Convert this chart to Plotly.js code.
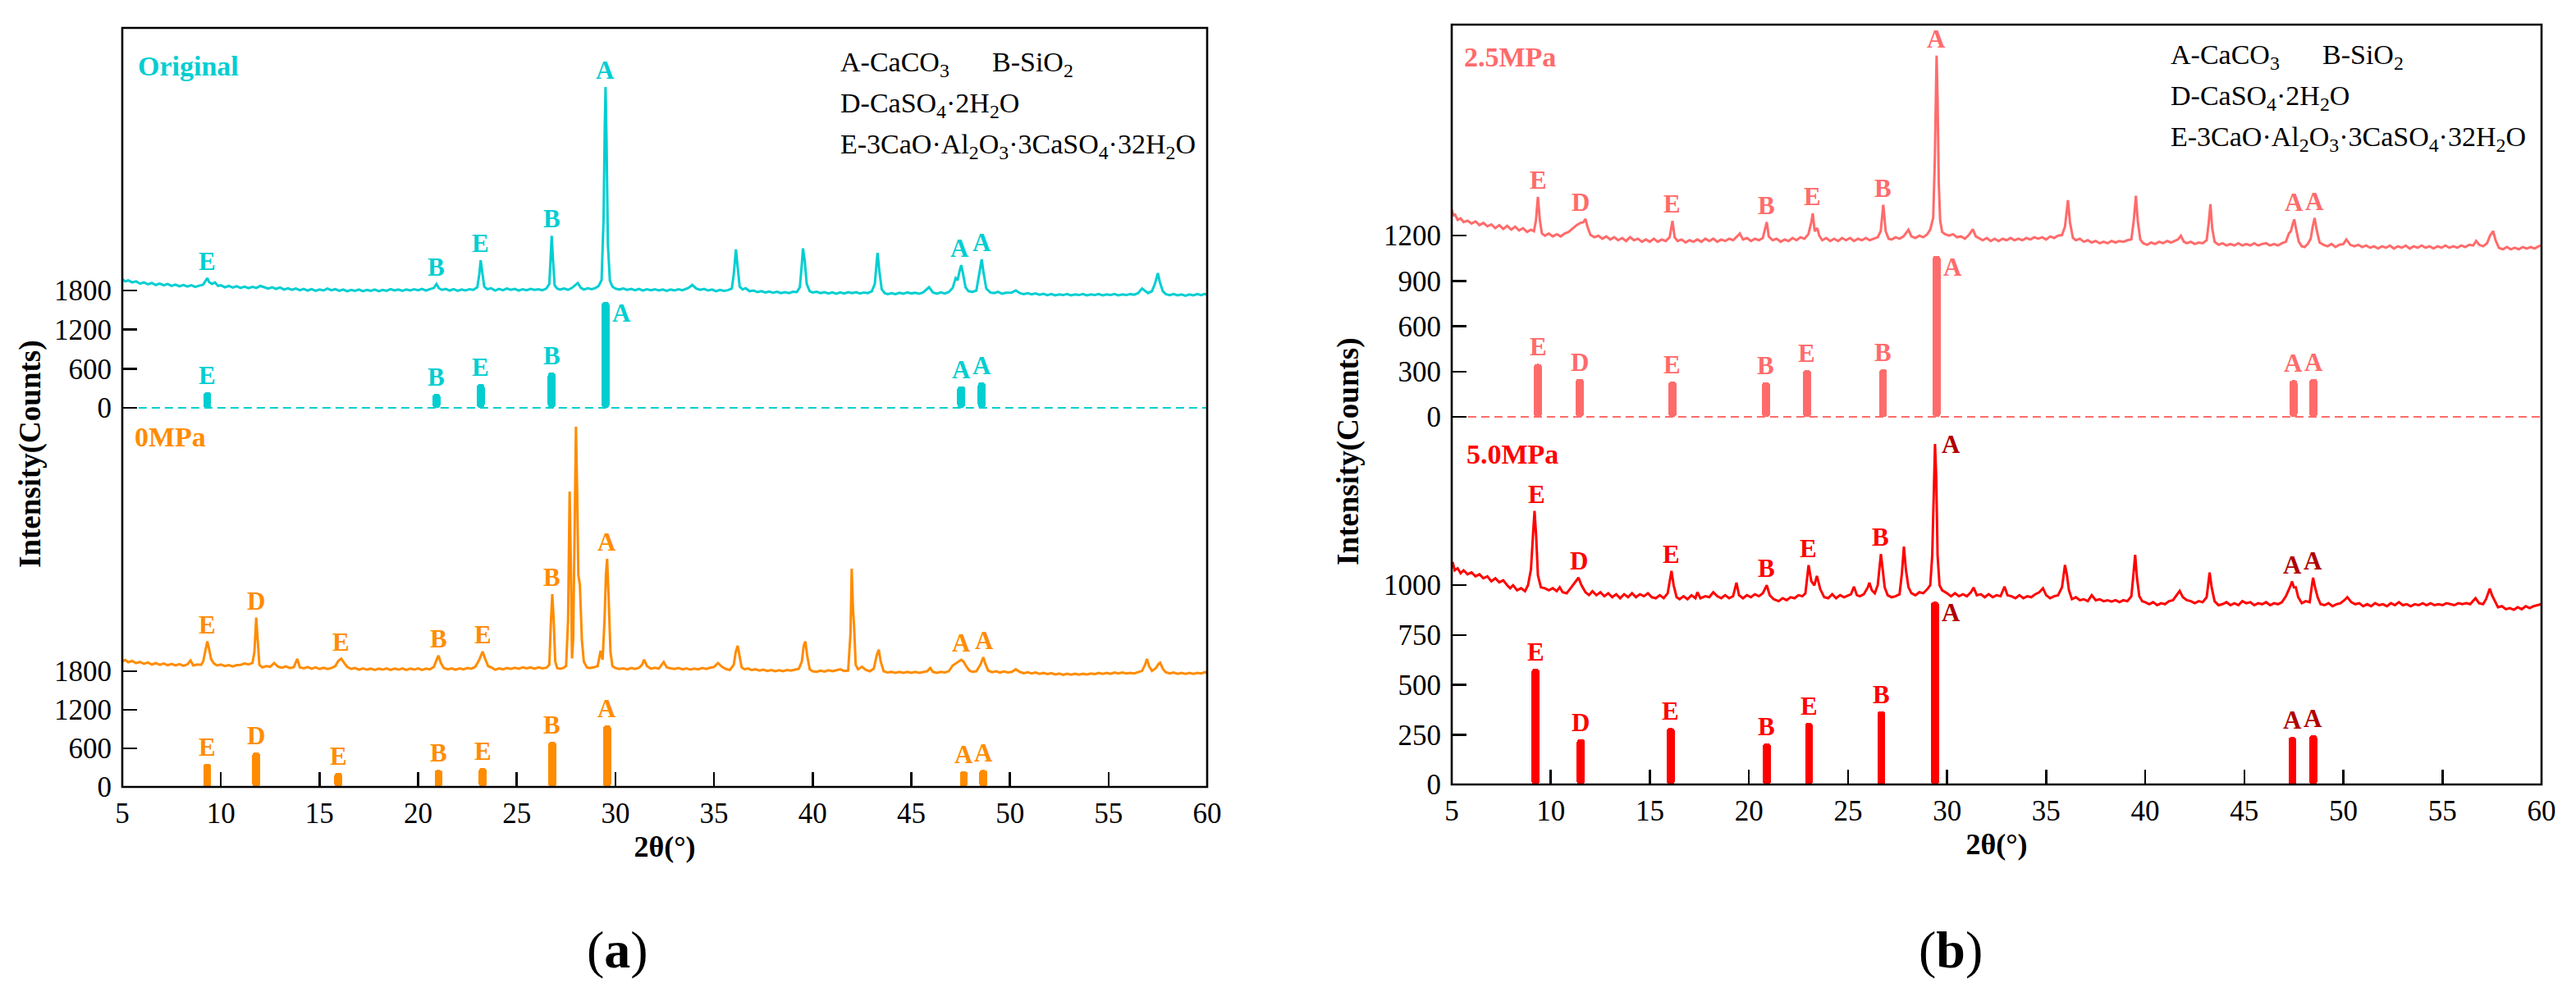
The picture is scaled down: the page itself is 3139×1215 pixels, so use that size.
<!DOCTYPE html>
<html>
<head>
<meta charset="utf-8">
<script src="https://cdn.plot.ly/plotly-3.0.1.min.js"></script>
<style>html,body{margin:0;padding:0;background:#fff}</style>
</head>
<body>
<div id="chart" style="width:3139px;height:1215px"></div>
<script>
/*** DATA: measured XRD scans, [2theta, counts] ***/

// Original sample (upper part of panel a)
const originalScan = [[5.0,1975],[5.15,1940],[5.3,1955],[5.5,1925],[5.7,1940],[5.9,1905],[6.1,1925],[6.3,1895],[6.5,1915],[6.7,1885],[6.9,1905],[7.1,1880],[7.3,1900],[7.5,1870],[7.7,1890],[7.9,1865],[8.1,1885],[8.3,1860],[8.5,1880],[8.7,1855],[8.9,1875],[9.1,1890],[9.25,1960],[9.31,1990],[9.4,1930],[9.55,1900],[9.7,1925],[9.85,1870],[10.0,1880],[10.2,1850],[10.4,1870],[10.6,1845],[10.8,1865],[11.0,1840],[11.2,1860],[11.4,1835],[11.6,1855],[11.8,1840],[12.0,1870],[12.2,1850],[12.4,1830],[12.6,1850],[12.8,1825],[13.0,1845],[13.2,1815],[13.4,1835],[13.6,1810],[13.8,1830],[14.0,1805],[14.2,1825],[14.4,1800],[14.6,1820],[14.8,1795],[15.0,1815],[15.2,1800],[15.4,1830],[15.6,1805],[15.8,1820],[16.0,1795],[16.2,1815],[16.4,1790],[16.6,1810],[16.8,1795],[17.0,1815],[17.2,1790],[17.4,1810],[17.6,1795],[17.8,1815],[18.0,1790],[18.2,1810],[18.4,1795],[18.6,1820],[18.8,1800],[19.0,1815],[19.2,1795],[19.4,1815],[19.6,1800],[19.8,1820],[20.0,1805],[20.2,1825],[20.4,1800],[20.6,1820],[20.8,1840],[20.93,1900],[21.05,1835],[21.2,1810],[21.4,1825],[21.6,1800],[21.8,1820],[22.0,1795],[22.2,1815],[22.4,1800],[22.6,1820],[22.8,1810],[23.0,1850],[23.1,2050],[23.17,2263],[23.25,2080],[23.35,1860],[23.5,1820],[23.7,1835],[23.9,1800],[24.1,1825],[24.3,1805],[24.5,1830],[24.7,1810],[24.9,1825],[25.1,1800],[25.3,1820],[25.5,1805],[25.7,1825],[25.9,1810],[26.1,1820],[26.3,1805],[26.5,1830],[26.65,1900],[26.72,2350],[26.77,2640],[26.84,2250],[26.92,1880],[27.05,1830],[27.2,1815],[27.4,1830],[27.6,1810],[27.8,1840],[27.95,1880],[28.09,1915],[28.25,1840],[28.4,1815],[28.6,1835],[28.8,1820],[29.0,1840],[29.15,1870],[29.3,1960],[29.4,2900],[29.46,4300],[29.5,4922],[29.55,4100],[29.62,2500],[29.72,1950],[29.85,1860],[30.0,1830],[30.2,1815],[30.4,1830],[30.6,1810],[30.8,1825],[31.0,1805],[31.2,1825],[31.4,1800],[31.6,1820],[31.8,1805],[32.0,1820],[32.2,1800],[32.4,1815],[32.6,1795],[32.8,1815],[33.0,1800],[33.2,1820],[33.4,1805],[33.7,1840],[33.9,1885],[34.1,1830],[34.3,1810],[34.5,1825],[34.7,1800],[34.9,1815],[35.1,1790],[35.3,1810],[35.5,1795],[35.7,1805],[35.9,1830],[36.0,2050],[36.11,2430],[36.2,2150],[36.3,1860],[36.45,1815],[36.6,1835],[36.8,1790],[37.0,1800],[37.2,1775],[37.4,1790],[37.6,1770],[37.8,1785],[38.0,1765],[38.2,1780],[38.4,1760],[38.6,1775],[38.8,1760],[39.0,1780],[39.2,1775],[39.35,1850],[39.45,2200],[39.51,2446],[39.6,2250],[39.7,1900],[39.85,1790],[40.0,1770],[40.2,1780],[40.4,1760],[40.6,1775],[40.8,1755],[41.0,1770],[41.2,1750],[41.4,1770],[41.6,1755],[41.8,1775],[42.0,1760],[42.2,1775],[42.4,1755],[42.6,1770],[42.8,1760],[43.0,1790],[43.15,1900],[43.25,2250],[43.29,2377],[43.38,2100],[43.5,1820],[43.65,1760],[43.8,1745],[44.0,1760],[44.2,1745],[44.4,1765],[44.6,1750],[44.8,1770],[45.0,1755],[45.2,1765],[45.4,1750],[45.6,1770],[45.9,1850],[46.1,1770],[46.3,1750],[46.5,1770],[46.7,1755],[46.9,1775],[47.1,1840],[47.25,1990],[47.35,1960],[47.45,2100],[47.53,2190],[47.62,2060],[47.75,1850],[47.9,1790],[48.1,1780],[48.3,1800],[48.45,2050],[48.57,2278],[48.65,2100],[48.8,1830],[49.0,1770],[49.2,1760],[49.4,1780],[49.6,1750],[49.8,1765],[50.1,1770],[50.3,1800],[50.5,1760],[50.7,1745],[50.9,1760],[51.1,1740],[51.3,1755],[51.5,1735],[51.7,1750],[51.9,1730],[52.1,1745],[52.3,1725],[52.5,1740],[52.7,1730],[52.9,1745],[53.1,1725],[53.3,1740],[53.5,1730],[53.7,1745],[53.9,1725],[54.1,1740],[54.3,1730],[54.5,1745],[54.7,1725],[54.9,1740],[55.1,1730],[55.3,1745],[55.5,1725],[55.7,1740],[55.9,1730],[56.1,1745],[56.3,1735],[56.5,1760],[56.7,1830],[56.85,1790],[57.0,1760],[57.2,1790],[57.35,1900],[57.5,2066],[57.6,1930],[57.75,1790],[57.9,1745],[58.1,1730],[58.3,1745],[58.5,1725],[58.7,1740],[58.9,1720],[59.1,1740],[59.3,1725],[59.5,1745],[59.7,1730],[59.85,1745],[60.0,1740]];

// 0MPa sample (lower part of panel a)
const mpa0Scan = [[5.0,1955],[5.15,1975],[5.3,1940],[5.5,1960],[5.7,1925],[5.9,1945],[6.1,1915],[6.3,1935],[6.5,1905],[6.7,1925],[6.9,1900],[7.1,1920],[7.3,1895],[7.5,1915],[7.7,1890],[7.9,1910],[8.1,1885],[8.3,1905],[8.46,1966],[8.6,1890],[8.8,1905],[9.0,1900],[9.1,1950],[9.2,2120],[9.31,2264],[9.4,2150],[9.5,1990],[9.65,1920],[9.8,1890],[10.0,1905],[10.2,1880],[10.4,1895],[10.6,1875],[10.8,1895],[11.0,1900],[11.2,1920],[11.4,1905],[11.6,1930],[11.7,2100],[11.79,2634],[11.86,2250],[11.95,1900],[12.1,1860],[12.3,1880],[12.5,1870],[12.7,1928],[12.9,1870],[13.1,1855],[13.3,1875],[13.5,1850],[13.7,1865],[13.87,1991],[14.0,1860],[14.2,1845],[14.4,1865],[14.6,1840],[14.8,1860],[15.0,1835],[15.2,1855],[15.4,1835],[15.6,1850],[15.8,1880],[15.95,1960],[16.1,1996],[16.25,1930],[16.4,1870],[16.6,1835],[16.8,1850],[17.0,1825],[17.2,1845],[17.4,1825],[17.6,1840],[17.8,1820],[18.0,1840],[18.2,1825],[18.4,1845],[18.6,1820],[18.8,1840],[19.0,1825],[19.2,1845],[19.4,1820],[19.6,1840],[19.8,1825],[20.0,1845],[20.2,1820],[20.4,1840],[20.6,1830],[20.8,1870],[20.95,1990],[21.03,2043],[21.15,1930],[21.3,1850],[21.5,1830],[21.7,1845],[21.9,1825],[22.1,1845],[22.3,1830],[22.5,1850],[22.7,1840],[22.9,1870],[23.1,1980],[23.27,2106],[23.4,1990],[23.55,1880],[23.7,1860],[23.9,1825],[24.1,1845],[24.3,1830],[24.5,1850],[24.7,1835],[24.9,1855],[25.1,1840],[25.3,1860],[25.5,1845],[25.7,1860],[25.9,1840],[26.1,1860],[26.3,1845],[26.5,1855],[26.65,1900],[26.72,2500],[26.8,3000],[26.87,2600],[26.95,1950],[27.05,1850],[27.2,1840],[27.35,1850],[27.5,1880],[27.6,2600],[27.68,4596],[27.75,3300],[27.8,2000],[27.86,2300],[27.93,4200],[28.0,5604],[28.06,4600],[28.12,3300],[28.2,3140],[28.3,2285],[28.4,1950],[28.55,1860],[28.7,1850],[28.9,1860],[29.1,1880],[29.25,2119],[29.35,1980],[29.45,2600],[29.52,3300],[29.58,3549],[29.65,3000],[29.75,2100],[29.85,1880],[30.0,1850],[30.2,1835],[30.4,1845],[30.6,1830],[30.8,1850],[31.0,1835],[31.2,1855],[31.35,1900],[31.45,1979],[31.6,1880],[31.8,1840],[32.0,1855],[32.2,1840],[32.45,1944],[32.6,1860],[32.8,1845],[33.0,1835],[33.2,1850],[33.4,1830],[33.6,1845],[33.8,1825],[34.0,1840],[34.2,1830],[34.4,1850],[34.6,1835],[34.8,1855],[35.0,1865],[35.2,1928],[35.4,1870],[35.6,1835],[35.8,1820],[36.0,1900],[36.1,2100],[36.2,2196],[36.3,2000],[36.4,1860],[36.55,1830],[36.7,1845],[36.9,1820],[37.1,1830],[37.3,1810],[37.5,1825],[37.7,1805],[37.9,1820],[38.1,1800],[38.3,1815],[38.5,1800],[38.7,1820],[38.9,1810],[39.1,1825],[39.3,1840],[39.45,1950],[39.55,2200],[39.63,2264],[39.72,2050],[39.85,1830],[40.0,1800],[40.2,1790],[40.4,1810],[40.6,1795],[40.8,1815],[41.0,1800],[41.2,1815],[41.4,1830],[41.6,1805],[41.8,1810],[41.92,2400],[41.98,3396],[42.04,2800],[42.1,2500],[42.18,1900],[42.3,1830],[42.5,1870],[42.7,1820],[42.9,1800],[43.1,1840],[43.25,2050],[43.35,2136],[43.45,1950],[43.6,1800],[43.8,1780],[44.0,1790],[44.2,1775],[44.4,1790],[44.6,1775],[44.8,1790],[45.0,1775],[45.2,1790],[45.4,1775],[45.6,1790],[45.8,1800],[45.96,1850],[46.1,1790],[46.3,1775],[46.5,1790],[46.7,1780],[46.9,1800],[47.1,1890],[47.3,1930],[47.45,1960],[47.53,1979],[47.65,1950],[47.8,1870],[47.95,1810],[48.1,1790],[48.3,1800],[48.5,1900],[48.65,2017],[48.75,1920],[48.9,1810],[49.1,1785],[49.3,1800],[49.5,1780],[49.7,1795],[49.9,1780],[50.1,1790],[50.3,1830],[50.5,1790],[50.7,1770],[50.9,1785],[51.1,1765],[51.3,1780],[51.5,1760],[51.7,1775],[51.9,1755],[52.1,1770],[52.3,1750],[52.5,1765],[52.7,1745],[52.9,1760],[53.1,1745],[53.3,1760],[53.5,1745],[53.7,1760],[53.9,1750],[54.1,1765],[54.3,1755],[54.5,1775],[54.7,1760],[54.9,1775],[55.1,1760],[55.3,1780],[55.5,1765],[55.7,1780],[55.9,1765],[56.1,1775],[56.3,1765],[56.5,1785],[56.7,1805],[56.85,1900],[56.95,1991],[57.05,1880],[57.2,1805],[57.4,1850],[57.55,1920],[57.62,1932],[57.75,1840],[57.9,1785],[58.1,1765],[58.3,1780],[58.5,1760],[58.7,1775],[58.9,1760],[59.1,1775],[59.3,1760],[59.5,1775],[59.7,1765],[59.9,1785],[60.0,1770]];

// 2.5MPa sample (upper part of panel b)
const mpa25Scan = [[5.0,1375],[5.08,1330],[5.15,1345],[5.3,1305],[5.45,1315],[5.6,1290],[5.8,1300],[6.0,1280],[6.2,1295],[6.4,1270],[6.6,1285],[6.8,1262],[7.0,1275],[7.2,1250],[7.4,1270],[7.6,1245],[7.8,1265],[8.0,1240],[8.2,1260],[8.4,1235],[8.6,1250],[8.8,1225],[9.0,1240],[9.15,1230],[9.25,1300],[9.35,1457],[9.45,1300],[9.55,1215],[9.7,1200],[9.9,1215],[10.1,1195],[10.3,1210],[10.5,1195],[10.7,1215],[10.9,1225],[11.1,1250],[11.3,1270],[11.5,1285],[11.65,1290],[11.75,1311],[11.85,1260],[12.0,1205],[12.2,1190],[12.4,1200],[12.6,1180],[12.8,1195],[13.0,1175],[13.2,1190],[13.4,1170],[13.6,1185],[13.8,1165],[14.0,1190],[14.2,1170],[14.4,1180],[14.6,1160],[14.8,1175],[15.0,1160],[15.2,1180],[15.4,1160],[15.6,1175],[15.8,1165],[16.0,1190],[16.14,1298],[16.25,1190],[16.4,1165],[16.6,1175],[16.8,1155],[17.0,1170],[17.2,1160],[17.4,1175],[17.6,1160],[17.8,1180],[18.0,1165],[18.2,1180],[18.4,1160],[18.6,1175],[18.8,1165],[19.0,1180],[19.2,1170],[19.4,1195],[19.54,1215],[19.7,1175],[19.9,1185],[20.1,1165],[20.3,1180],[20.5,1170],[20.7,1185],[20.9,1290],[21.0,1195],[21.2,1170],[21.4,1180],[21.6,1160],[21.8,1175],[22.0,1165],[22.2,1185],[22.4,1170],[22.6,1190],[22.8,1180],[23.0,1210],[23.15,1290],[23.22,1348],[23.32,1230],[23.45,1250],[23.55,1200],[23.7,1170],[23.9,1185],[24.1,1165],[24.3,1180],[24.5,1165],[24.7,1185],[24.9,1170],[25.1,1185],[25.3,1165],[25.5,1180],[25.7,1170],[25.9,1185],[26.1,1170],[26.3,1180],[26.5,1190],[26.65,1230],[26.78,1405],[26.9,1230],[27.05,1180],[27.2,1175],[27.4,1190],[27.6,1180],[27.8,1195],[28.05,1239],[28.2,1195],[28.4,1185],[28.6,1200],[28.8,1190],[29.0,1210],[29.15,1240],[29.3,1320],[29.38,1700],[29.44,2250],[29.47,2393],[29.52,2100],[29.58,1550],[29.65,1300],[29.75,1225],[29.9,1210],[30.1,1200],[30.3,1210],[30.5,1190],[30.7,1195],[30.9,1180],[31.1,1205],[31.3,1243],[31.45,1195],[31.6,1185],[31.8,1170],[32.0,1185],[32.2,1165],[32.4,1180],[32.6,1165],[32.8,1180],[33.0,1170],[33.2,1185],[33.4,1170],[33.6,1180],[33.8,1170],[34.0,1185],[34.2,1175],[34.4,1190],[34.6,1180],[34.8,1190],[35.0,1175],[35.2,1195],[35.4,1185],[35.6,1200],[35.8,1205],[35.95,1260],[36.1,1435],[36.2,1290],[36.35,1185],[36.5,1170],[36.7,1180],[36.9,1160],[37.1,1170],[37.3,1155],[37.5,1165],[37.7,1150],[37.9,1160],[38.1,1150],[38.3,1165],[38.5,1155],[38.7,1165],[38.9,1160],[39.1,1170],[39.3,1175],[39.42,1300],[39.53,1464],[39.62,1300],[39.75,1175],[39.9,1150],[40.1,1140],[40.3,1155],[40.5,1145],[40.7,1160],[40.9,1150],[41.1,1165],[41.3,1155],[41.5,1165],[41.65,1175],[41.8,1200],[41.95,1160],[42.1,1150],[42.3,1160],[42.5,1145],[42.7,1155],[42.9,1150],[43.1,1170],[43.2,1280],[43.29,1409],[43.38,1250],[43.5,1160],[43.7,1140],[43.9,1150],[44.1,1135],[44.3,1145],[44.5,1135],[44.7,1150],[44.9,1135],[45.1,1145],[45.3,1135],[45.5,1150],[45.7,1135],[45.9,1145],[46.1,1150],[46.3,1135],[46.5,1145],[46.7,1135],[46.9,1150],[47.1,1160],[47.25,1215],[47.35,1230],[47.45,1280],[47.52,1308],[47.62,1240],[47.75,1160],[47.9,1130],[48.05,1125],[48.2,1145],[48.35,1180],[48.45,1260],[48.55,1317],[48.65,1240],[48.8,1155],[49.0,1140],[49.2,1130],[49.4,1145],[49.6,1125],[49.8,1140],[50.0,1145],[50.15,1175],[50.35,1140],[50.55,1130],[50.75,1140],[50.95,1125],[51.15,1135],[51.35,1120],[51.55,1130],[51.75,1115],[51.95,1130],[52.15,1120],[52.35,1135],[52.55,1115],[52.75,1130],[52.95,1120],[53.15,1135],[53.35,1115],[53.55,1130],[53.75,1120],[53.95,1135],[54.15,1120],[54.35,1130],[54.55,1115],[54.75,1130],[54.95,1120],[55.15,1135],[55.35,1120],[55.55,1130],[55.75,1120],[55.95,1135],[56.15,1125],[56.35,1140],[56.55,1135],[56.7,1165],[56.85,1140],[57.05,1130],[57.25,1150],[57.4,1200],[57.56,1230],[57.68,1170],[57.85,1120],[58.05,1110],[58.25,1125],[58.45,1110],[58.65,1120],[58.85,1110],[59.05,1125],[59.25,1115],[59.45,1125],[59.65,1115],[59.85,1130],[60.0,1135]];

// 5.0MPa sample (lower part of panel b)
const mpa50Scan = [[5.0,1096],[5.05,1116],[5.15,1075],[5.3,1085],[5.45,1060],[5.6,1075],[5.8,1055],[6.0,1065],[6.2,1045],[6.4,1055],[6.6,1035],[6.8,1045],[7.0,1020],[7.2,1035],[7.4,1015],[7.6,1025],[7.8,1000],[7.95,985],[8.1,1000],[8.3,975],[8.5,985],[8.7,970],[8.85,1000],[9.0,1080],[9.1,1250],[9.18,1373],[9.26,1250],[9.35,1050],[9.5,990],[9.7,985],[9.9,975],[10.1,985],[10.3,970],[10.45,990],[10.6,965],[10.8,960],[11.0,985],[11.2,1010],[11.4,1038],[11.55,1000],[11.75,965],[11.93,951],[12.1,970],[12.3,950],[12.5,965],[12.7,945],[12.9,960],[13.1,940],[13.3,955],[13.5,935],[13.7,955],[13.9,940],[14.1,960],[14.3,940],[14.5,955],[14.7,945],[14.9,960],[15.1,940],[15.3,935],[15.5,950],[15.7,935],[15.9,960],[16.0,1030],[16.09,1072],[16.2,1000],[16.35,940],[16.5,930],[16.7,945],[16.9,930],[17.1,950],[17.3,935],[17.4,965],[17.55,935],[17.8,945],[18.0,940],[18.2,965],[18.4,945],[18.6,935],[18.8,950],[19.0,935],[19.2,945],[19.37,1013],[19.5,950],[19.7,935],[19.9,950],[20.1,940],[20.3,955],[20.5,945],[20.7,960],[20.9,1000],[21.05,950],[21.25,930],[21.5,920],[21.7,935],[21.9,925],[22.1,940],[22.3,935],[22.5,950],[22.7,945],[22.85,960],[23.01,1101],[23.15,1020],[23.3,1000],[23.43,1047],[23.6,980],[23.8,940],[24.0,935],[24.2,955],[24.4,935],[24.6,950],[24.8,940],[25.0,950],[25.15,955],[25.3,993],[25.45,950],[25.6,945],[25.8,955],[26.0,990],[26.08,1013],[26.2,975],[26.35,960],[26.5,1000],[26.6,1120],[26.66,1157],[26.75,1080],[26.85,990],[27.0,950],[27.2,940],[27.4,945],[27.6,955],[27.72,1060],[27.82,1194],[27.92,1080],[28.05,990],[28.2,960],[28.4,950],[28.6,965],[28.8,960],[29.0,980],[29.15,1000],[29.25,1150],[29.32,1500],[29.39,1709],[29.45,1550],[29.52,1150],[29.62,1000],[29.75,975],[30.0,960],[30.2,945],[30.4,960],[30.6,945],[30.8,955],[31.0,945],[31.2,965],[31.34,988],[31.5,950],[31.7,955],[31.9,940],[32.1,955],[32.3,940],[32.5,950],[32.7,945],[32.9,993],[33.05,950],[33.25,945],[33.45,935],[33.65,950],[33.85,935],[34.05,945],[34.25,940],[34.45,955],[34.65,965],[34.84,985],[35.0,950],[35.2,935],[35.4,945],[35.6,950],[35.8,990],[35.95,1102],[36.05,1050],[36.15,975],[36.3,930],[36.5,940],[36.7,925],[36.9,930],[37.1,920],[37.3,950],[37.5,925],[37.7,930],[37.9,920],[38.1,925],[38.3,918],[38.5,925],[38.7,915],[38.9,925],[39.1,920],[39.3,945],[39.4,1050],[39.49,1153],[39.58,1040],[39.7,945],[39.85,920],[40.0,915],[40.2,905],[40.4,915],[40.6,900],[40.8,910],[41.0,905],[41.2,920],[41.4,925],[41.6,950],[41.74,972],[41.9,940],[42.1,925],[42.3,920],[42.5,910],[42.7,920],[42.9,915],[43.1,940],[43.18,1000],[43.25,1064],[43.35,990],[43.5,920],[43.7,900],[43.9,905],[44.1,915],[44.3,900],[44.5,910],[44.7,900],[44.9,920],[45.1,910],[45.3,915],[45.5,900],[45.7,910],[45.9,905],[46.1,915],[46.3,900],[46.5,910],[46.7,905],[46.9,915],[47.1,945],[47.3,990],[47.41,1019],[47.5,990],[47.6,990],[47.72,940],[47.9,910],[48.1,920],[48.3,915],[48.4,990],[48.47,1038],[48.57,990],[48.7,940],[48.85,905],[49.05,900],[49.25,910],[49.45,895],[49.65,905],[49.85,910],[50.05,925],[50.2,940],[50.4,915],[50.6,905],[50.8,910],[51.0,895],[51.2,905],[51.4,895],[51.6,910],[51.8,900],[52.0,905],[52.2,895],[52.4,910],[52.6,900],[52.8,915],[53.0,900],[53.2,905],[53.4,895],[53.6,905],[53.8,900],[54.0,910],[54.2,900],[54.4,910],[54.6,900],[54.8,905],[55.0,900],[55.2,910],[55.4,905],[55.6,900],[55.8,910],[56.0,905],[56.2,910],[56.4,905],[56.67,935],[56.85,910],[57.05,905],[57.2,930],[57.39,983],[57.5,950],[57.65,920],[57.8,890],[58.0,895],[58.2,880],[58.4,885],[58.6,877],[58.8,890],[59.0,880],[59.2,895],[59.4,885],[59.6,895],[59.8,900],[60.0,905]];

/*** DATA: reference stick patterns ***/
const originalRefPos = [9.31, 20.93, 23.17, 26.77, 29.5, 47.53, 48.57];
const originalRefCounts = [239, 214, 365, 541, 1624, 331, 390];
const originalRefPhase = ['E', 'B', 'E', 'B', 'A', 'A', 'A'];

const mpa0RefPos = [9.31, 11.79, 15.95, 21.03, 23.27, 26.8, 29.58, 47.66, 48.65];
const mpa0RefCounts = [362, 536, 221, 264, 294, 702, 957, 243, 264];
const mpa0RefPhase = ['E', 'D', 'E', 'B', 'E', 'B', 'A', 'A', 'A'];

const mpa25RefPos = [9.35, 11.46, 16.14, 20.86, 22.93, 26.77, 29.47, 47.48, 48.49];
const mpa25RefCounts = [351, 252, 234, 230, 311, 315, 1067, 243, 252];
const mpa25RefPhase = ['E', 'D', 'E', 'B', 'E', 'B', 'A', 'A', 'A'];

const mpa50RefPos = [9.23, 11.51, 16.05, 20.9, 23.03, 26.68, 29.39, 47.43, 48.48];
const mpa50RefCounts = [581, 228, 283, 206, 309, 368, 917, 238, 248];
const mpa50RefPhase = ['E', 'D', 'E', 'B', 'E', 'B', 'A', 'A', 'A'];

/*** DATA: phases marked on the measured scans ***/
const originalPeakPos = [9.31, 20.93, 23.17, 26.77, 29.5, 47.45, 48.6];
const originalPeakPhase = ['E', 'B', 'E', 'B', 'A', 'A', 'A'];
const mpa0PeakPos = [9.31, 11.79, 16.1, 21.03, 23.27, 26.8, 29.58, 47.53, 48.7];
const mpa0PeakPhase = ['E', 'D', 'E', 'B', 'E', 'B', 'A', 'A', 'A'];
const mpa25PeakPos = [9.35, 11.5, 16.14, 20.9, 23.22, 26.78, 29.47, 47.52, 48.55];
const mpa25PeakPhase = ['E', 'D', 'E', 'B', 'E', 'B', 'A', 'A', 'A'];
const mpa50PeakPos = [9.3, 11.4, 16.09, 20.9, 23.01, 26.66, 29.39, 47.41, 48.47];
const mpa50PeakPhase = ['E', 'D', 'E', 'B', 'E', 'B', 'A', 'A', 'A'];

/*** AXIS TICKS ***/
const xTicks = [5, 10, 15, 20, 25, 30, 35, 40, 45, 50, 55, 60];
const yTicksA = [0, 600, 1200, 1800];
const yTicksUpperB = [0, 300, 600, 900, 1200];
const yTicksLowerB = [0, 250, 500, 750, 1000];

/*** STYLE ***/
const W = 3139, H = 1215;
const FONT = 'Liberation Serif, Times New Roman, serif';
const CYAN = '#00CED1', ORANGE = '#FF8C00', PINK = '#FF6B6B', RED = '#FF0000', DARKRED = '#B00000';

// pixel -> paper helpers
function px(x) { return x / W; }
function py(y) { return 1 - y / H; }

// panel frames in pixels
const panelA = { l: 149, r: 1471, t: 34, b: 959, split: 508 };
const panelB = { l: 1769, r: 3097, t: 30, b: 956, split: 520 };

/*** TRACE BUILDERS ***/
function scanTrace(scan, color, xa, ya) {
    return {
        type: 'scatter', mode: 'lines',
        x: scan.map(p => p[0]), y: scan.map(p => p[1]),
        xaxis: xa, yaxis: ya,
        line: { color: color, width: 3 },
        hoverinfo: 'skip', showlegend: false
    };
}

function stickTrace(pos, counts, color, xa, ya) {
    return {
        type: 'bar', x: pos, y: counts, base: 0, width: 0.4,
        xaxis: xa, yaxis: ya,
        marker: { color: color, cornerradius: '45%', line: { width: 0 } },
        hoverinfo: 'skip', showlegend: false
    };
}

// highest point of a scan near a given angle
function peakTop(scan, x) {
    let m = -Infinity;
    scan.forEach(p => { if (Math.abs(p[0] - x) <= 0.3 && p[1] > m) m = p[1]; });
    return m;
}

// phase letters above peaks / sticks; `right` holds indexes placed beside the mark
function phaseLabels(pos, heights, phases, color, xa, ya, right, rightShift, colorOf) {
    return pos.map((x, i) => {
        const c = colorOf ? colorOf(phases[i]) : color;
        const base = {
            x: x, y: heights[i], xref: xa, yref: ya, text: '<b>' + phases[i] + '</b>',
            showarrow: false, font: { family: FONT, size: 31, color: c }
        };
        if (right && right.indexOf(i) >= 0) {
            return Object.assign(base, { xanchor: 'left', yanchor: 'top', xshift: 6, yshift: rightShift });
        }
        return Object.assign(base, { xanchor: 'center', yanchor: 'bottom', yshift: 1 });
    });
}

/*** TRACES ***/
const data = [
    scanTrace(originalScan, CYAN, 'x', 'y2'),
    stickTrace(originalRefPos, originalRefCounts, CYAN, 'x', 'y2'),
    scanTrace(mpa0Scan, ORANGE, 'x', 'y'),
    stickTrace(mpa0RefPos, mpa0RefCounts, ORANGE, 'x', 'y'),
    scanTrace(mpa25Scan, PINK, 'x2', 'y4'),
    stickTrace(mpa25RefPos, mpa25RefCounts, PINK, 'x2', 'y4'),
    scanTrace(mpa50Scan, RED, 'x2', 'y3'),
    stickTrace(mpa50RefPos, mpa50RefCounts, RED, 'x2', 'y3')
];

/*** ANNOTATIONS ***/
const redPhase = p => (p === 'A' ? DARKRED : RED);
let annotations = [].concat(
    phaseLabels(originalPeakPos, originalPeakPos.map(x => peakTop(originalScan, x)), originalPeakPhase, CYAN, 'x', 'y2'),
    phaseLabels(originalRefPos, originalRefCounts, originalRefPhase, CYAN, 'x', 'y2', [4], 6),
    phaseLabels(mpa0PeakPos, mpa0PeakPos.map(x => peakTop(mpa0Scan, x)), mpa0PeakPhase, ORANGE, 'x', 'y'),
    phaseLabels(mpa0RefPos, mpa0RefCounts, mpa0RefPhase, ORANGE, 'x', 'y'),
    phaseLabels(mpa25PeakPos, mpa25PeakPos.map(x => peakTop(mpa25Scan, x)), mpa25PeakPhase, PINK, 'x2', 'y4'),
    phaseLabels(mpa25RefPos, mpa25RefCounts, mpa25RefPhase, PINK, 'x2', 'y4', [6], 6),
    phaseLabels(mpa50PeakPos, mpa50PeakPos.map(x => peakTop(mpa50Scan, x)), mpa50PeakPhase, RED, 'x2', 'y3', [6], 19, redPhase),
    phaseLabels(mpa50RefPos, mpa50RefCounts, mpa50RefPhase, RED, 'x2', 'y3', [6], 6, redPhase)
);

function paperText(text, x, y, size, color, extra) {
    return Object.assign({
        text: text, x: px(x), y: py(y), xref: 'paper', yref: 'paper',
        xanchor: 'left', yanchor: 'middle', showarrow: false,
        font: { family: FONT, size: size, color: color }
    }, extra || {});
}

// sample names
annotations.push(paperText('<b>Original</b>', 166, 80, 34, CYAN));
annotations.push(paperText('<b>0MPa</b>', 162, 532, 34, ORANGE));
annotations.push(paperText('<b>2.5MPa</b>', 1782, 70, 34, PINK));
annotations.push(paperText('<b>5.0MPa</b>', 1785, 553, 34, RED));

// phase key, one per panel
const keyLines = [
    'A-CaCO<sub>3</sub>',
    'D-CaSO<sub>4</sub>·2H<sub>2</sub>O',
    'E-3CaO·Al<sub>2</sub>O<sub>3</sub>·3CaSO<sub>4</sub>·32H<sub>2</sub>O'
];
[[1022, 1207, 78], [2643, 2828, 69]].forEach(k => {
    keyLines.forEach((t, i) => annotations.push(paperText(t, k[0], k[2] + i * 50, 34, '#000')));
    annotations.push(paperText('B-SiO<sub>2</sub>', k[1], k[2], 34, '#000'));
});

// y titles and panel letters
annotations.push(paperText('<b>Intensity(Counts)</b>', 37, 553, 37, '#000', { xanchor: 'center', textangle: -90 }));
annotations.push(paperText('<b>Intensity(Counts)</b>', 1643, 550, 37, '#000', { xanchor: 'center', textangle: -90 }));
annotations.push(paperText('(<b>a</b>)', 752, 1157, 64, '#000', { xanchor: 'center' }));
annotations.push(paperText('(<b>b</b>)', 2377, 1157, 64, '#000', { xanchor: 'center' }));

/*** AXES ***/
function xAxis(panel, anchor) {
    return {
        domain: [px(panel.l), px(panel.r)], anchor: anchor, range: [5, 60],
        tickmode: 'array', tickvals: xTicks, ticks: 'inside', ticklen: 18, tickwidth: 2.5, tickcolor: '#000',
        ticklabelstandoff: 8,
        showline: false, showgrid: false, zeroline: false, fixedrange: true,
        tickfont: { family: FONT, size: 35, color: '#000' },
        title: { text: '<b>2θ(°)</b>', font: { family: FONT, size: 36, color: '#000' }, standoff: 8 }
    };
}
function yAxis(y0, y1, range, ticks, anchor) {
    return {
        domain: [py(y0), py(y1)], anchor: anchor, range: range,
        tickmode: 'array', tickvals: ticks, ticks: 'inside', ticklen: 18, tickwidth: 2.5, tickcolor: '#000',
        ticklabelstandoff: 12,
        showline: false, showgrid: false, zeroline: false, fixedrange: true,
        tickfont: { family: FONT, size: 35, color: '#000' }
    };
}

const layout = {
    width: W, height: H,
    margin: { l: 0, r: 0, t: 0, b: 0 },
    paper_bgcolor: '#fff', plot_bgcolor: 'rgba(0,0,0,0)',
    font: { family: FONT, color: '#000' },
    showlegend: false, bargap: 0,
    xaxis: xAxis(panelA, 'y'),
    yaxis: yAxis(panelA.b, panelA.split, [0, 5758], yTicksA, 'x'),
    yaxis2: yAxis(panelA.split, panelA.t, [-138, 5828], yTicksA, 'x'),
    xaxis2: xAxis(panelB, 'y3'),
    yaxis3: yAxis(panelB.b, panelB.split, [0, 1796], yTicksLowerB, 'x2'),
    yaxis4: yAxis(panelB.split, panelB.t, [-65, 2598], yTicksUpperB, 'x2'),
    annotations: annotations,
    shapes: [
        { type: 'rect', xref: 'paper', yref: 'paper', x0: px(panelA.l), x1: px(panelA.r), y0: py(panelA.b), y1: py(panelA.t),
          line: { color: '#000', width: 2.6 } },
        { type: 'rect', xref: 'paper', yref: 'paper', x0: px(panelB.l), x1: px(panelB.r), y0: py(panelB.b), y1: py(panelB.t),
          line: { color: '#000', width: 2.6 } },
        { type: 'line', xref: 'x domain', yref: 'y2', x0: 0.015, x1: 1, y0: 0, y1: 0, layer: 'below',
          line: { color: CYAN, width: 2, dash: '10px,6px' } },
        { type: 'line', xref: 'x2 domain', yref: 'y4', x0: 0.015, x1: 1, y0: 0, y1: 0, layer: 'below',
          line: { color: PINK, width: 2, dash: '10px,6px' } }
    ]
};

Plotly.newPlot('chart', data, layout, { staticPlot: true, displayModeBar: false });
</script>
</body>
</html>
